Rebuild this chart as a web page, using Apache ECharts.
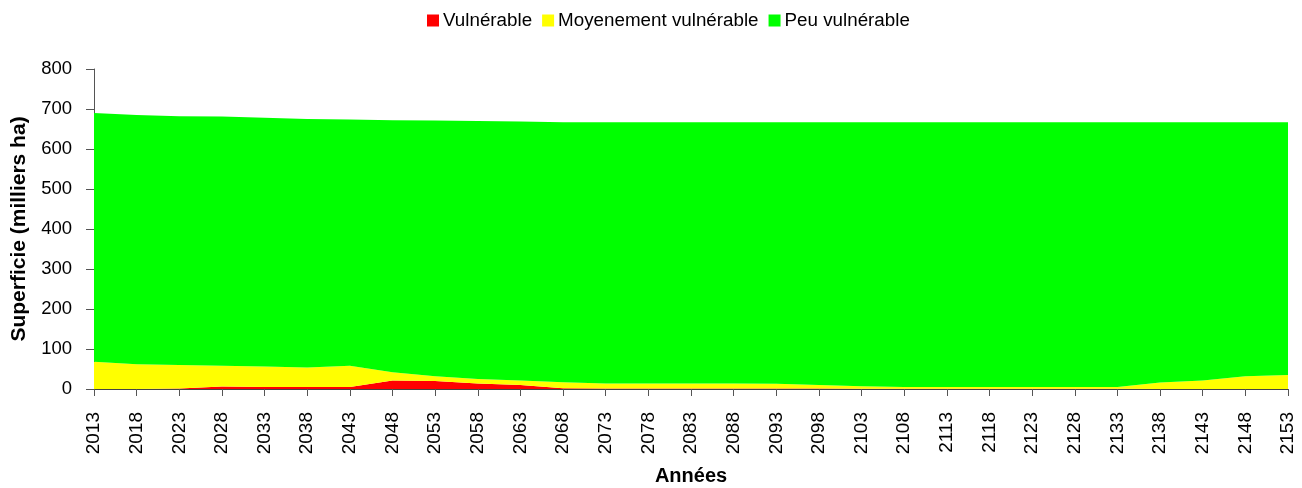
<!DOCTYPE html>
<html>
<head>
<meta charset="utf-8">
<script src="https://cdn.jsdelivr.net/npm/echarts@6/dist/echarts.min.js"></script>
<style>
    html, body { margin: 0; padding: 0; background: #fff; }
    #chart { width: 1302px; height: 488px; }
</style>
</head>
<body>
<div id="chart"></div>
<script>
    // années 2013 -> 2153, pas de 5
    var annees = [];
    for (var a = 2013; a <= 2153; a += 5) annees.push(String(a));

    var vulnerable = [0, 0, 1, 6, 5, 5, 5, 21, 20, 14, 10, 2, 1, 1, 1, 1, 1, 1, 0.5, 0.5, 0.5, 0.5, 0.5, 0.5, 0.5, 0, 0, 0, 0];
    var moyen = [68, 62, 59, 52, 51, 49, 53, 21, 12, 11, 11, 15, 13, 13, 13, 13, 12, 9, 6.5, 4.5, 4.5, 4.5, 4.5, 4.5, 4.5, 16, 21, 32, 35];
    var peu = [622, 623, 622, 623, 622, 621, 616, 630, 639, 645, 648, 650, 653, 653, 653, 653, 654, 657, 660, 662, 662, 662, 662, 662, 662, 651, 646, 635, 632];

    var chart = echarts.init(document.getElementById('chart'));

    var police = 'Liberation Sans, Arial, sans-serif';

    function serie(nom, data, couleur) {
        return {
            name: nom,
            type: 'line',
            stack: 'total',
            data: data,
            showSymbol: false,
            symbol: 'none',
            lineStyle: { width: 0 },
            areaStyle: { color: couleur, opacity: 1 },
            itemStyle: { color: couleur }
        };
    }

    var option = {
        animation: false,
        textStyle: { fontFamily: police },
        legend: {
            top: 6,
            left: 422,
            itemWidth: 12,
            itemHeight: 12,
            itemGap: 10,
            textStyle: { fontSize: 18.8, color: '#000', fontFamily: police, padding: [0, 0, 0, -1] },
            data: [
                { name: 'Vulnérable', icon: 'rect' },
                { name: 'Moyenement vulnérable', icon: 'rect' },
                { name: 'Peu vulnérable', icon: 'rect' }
            ]
        },
        grid: { left: 94, right: 14, top: 69, bottom: 99, outerBoundsMode: 'none', containLabel: false },
        xAxis: {
            type: 'category',
            data: annees,
            boundaryGap: false,
            name: 'Années',
            nameLocation: 'middle',
            nameGap: 77,
            nameTextStyle: { fontSize: 20, fontWeight: 'bold', color: '#000' },
            axisLine: { lineStyle: { color: '#444', width: 1 } },
            axisTick: { lineStyle: { color: '#555' }, length: 7 },
            axisLabel: { rotate: 90, fontSize: 19, color: '#000', margin: 23 }
        },
        yAxis: {
            type: 'value',
            min: 0,
            max: 800,
            interval: 100,
            name: 'Superficie (milliers ha)',
            nameLocation: 'middle',
            nameGap: 64,
            nameTextStyle: { fontSize: 21, fontWeight: 'bold', color: '#000' },
            axisLine: { show: true, lineStyle: { color: '#555', width: 1 } },
            axisTick: { show: true, lineStyle: { color: '#555' }, length: 8 },
            splitLine: { show: false },
            axisLabel: { fontSize: 18.5, color: '#000', margin: 22 }
        },
        series: [
            serie('Vulnérable', vulnerable, '#ff0000'),
            serie('Moyenement vulnérable', moyen, '#ffff00'),
            serie('Peu vulnérable', peu, '#00ff00')
        ]
    };

    chart.setOption(option);

    window.addEventListener('resize', function () {
        chart.resize();
    });
</script>
</body>
</html>
